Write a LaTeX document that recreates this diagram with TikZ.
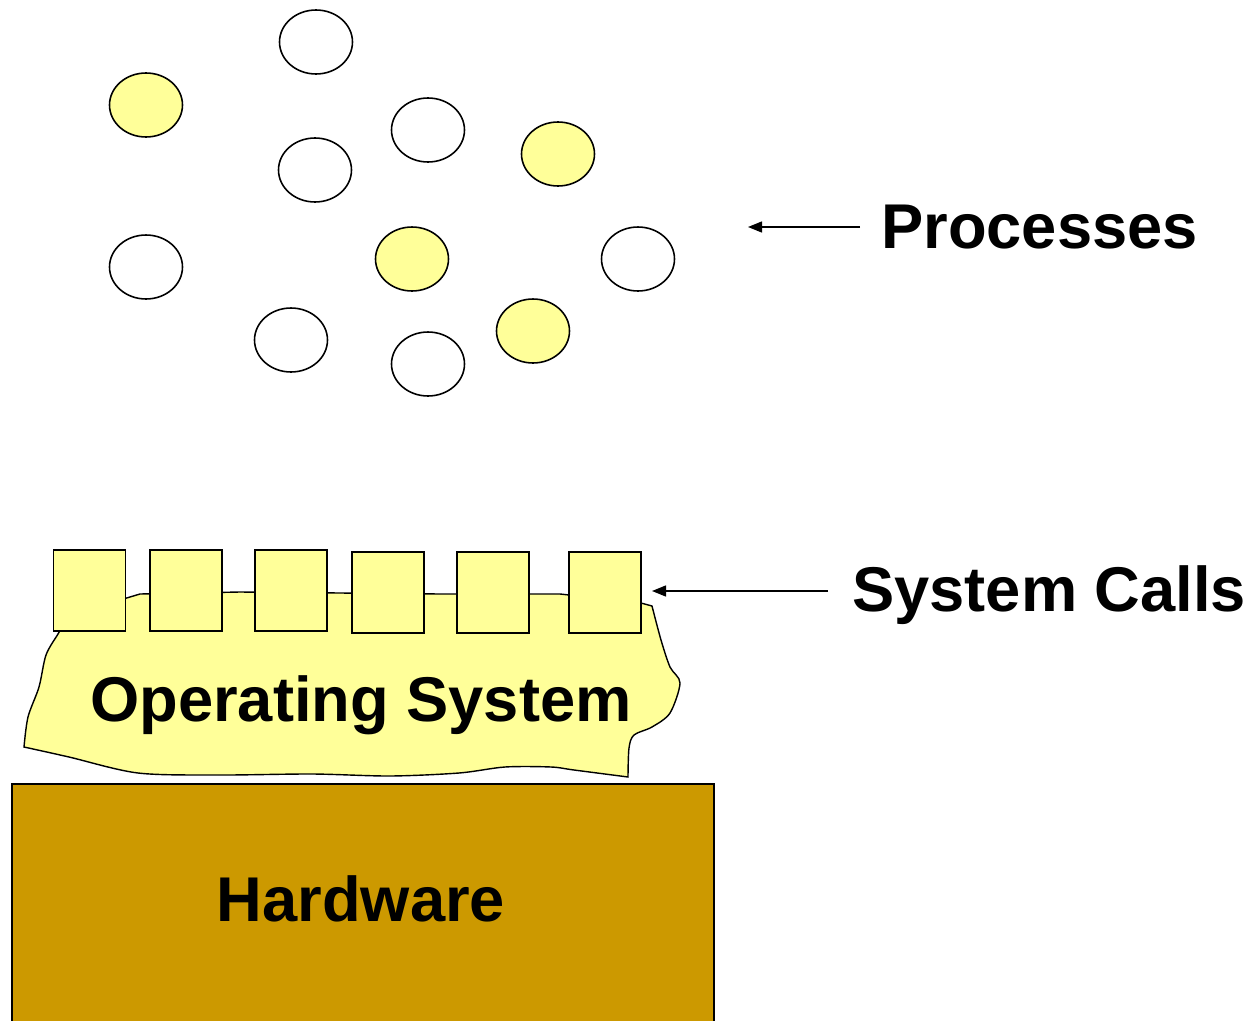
\documentclass[tikz,border=0pt]{standalone}
\usepackage{fontspec}
\setmainfont{Liberation Sans}
\usetikzlibrary{arrows.meta,shapes.geometric}
\definecolor{procyellow}{HTML}{FFFF99}
\definecolor{hwgold}{HTML}{CC9900}

\begin{document}
\begin{tikzpicture}[x=0.02cm, y=-0.02cm,
  proc/.style={draw, ellipse, line width=0.9pt, minimum width=1.46cm, minimum height=1.28cm, inner sep=0pt},
  busy/.style={proc, fill=procyellow},
  idle/.style={proc, fill=white},
  callbox/.style={draw, fill=procyellow, line width=0.8pt, minimum width=1.44cm, minimum height=1.62cm, inner sep=0pt},
  bigtext/.style={font=\bfseries\fontsize{36}{43}\selectfont},
  arr/.style={line width=0.8pt, -{Triangle[length=0.28cm, width=0.22cm]}}]

\useasboundingbox (0,0) rectangle (1258,1021);

\node[idle] (p1) at (316,42) {};
\node[busy] (p2) at (146,105) {};
\node[idle] (p3) at (428,130) {};
\node[busy] (p4) at (558,154) {};
\node[idle] (p5) at (315,170) {};
\node[idle] (p6) at (146,267) {};
\node[busy] (p7) at (412,259) {};
\node[idle] (p8) at (638,259) {};
\node[idle] (p9) at (291,340) {};
\node[busy] (p10) at (533,331) {};
\node[idle] (p11) at (428,364) {};

\node[bigtext, anchor=west, inner xsep=0.42cm] (proclabel) at (860,227) {Processes};
\coordinate (proctip) at (748,227);
\draw[arr] (proclabel.west) -- (proctip);

\filldraw[fill=procyellow, line width=0.8pt]
  plot[smooth, tension=.5] coordinates {(64,624) (58,634) (46,655) (39,687) (28,717) (24,747)}
  -- plot[smooth, tension=.5] coordinates {(24,747) (69,757) (138,773) (220,775) (312,774) (390,776) (459,773) (505,767) (551,767) (574,770) (628,777)}
  -- plot[smooth, tension=.5] coordinates {(628,777) (629,748) (634,735) (652,727) (670,713) (680,683) (670,667) (661,640) (652,606)}
  -- (641,603) -- (560,594) -- (440,594) -- (340,593) -- (240,592) -- (140,594) -- (120,600) -- (80,615) -- cycle;

\node[callbox] (sc1) at (89.5,590.5) {};
\node[callbox] (sc2) at (186,590.5) {};
\node[callbox] (sc3) at (291,590.5) {};
\node[callbox] (sc4) at (388,592.5) {};
\node[callbox] (sc5) at (493,592.5) {};
\node[callbox] (sc6) at (605,592.5) {};

\node[bigtext] (os) at (361,705) {Operating System};

\node[bigtext, anchor=west, inner xsep=0.48cm] (calllabel) at (828,595) {System Calls};
\coordinate (calltip) at (652,591);
\draw[arr] (calllabel.west |- calltip) -- (calltip);

\node[draw, fill=hwgold, line width=0.8pt, minimum width=14.04cm, minimum height=4.82cm, inner sep=0pt] (hw) at (363,904.5) {};
\node[bigtext] (hwtext) at (361,899) {Hardware};
\end{tikzpicture}
\end{document}
